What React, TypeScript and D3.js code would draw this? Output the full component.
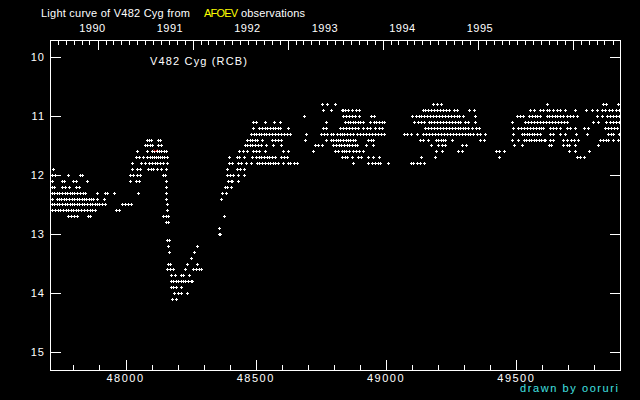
import React from "react";
import * as d3 from "d3";

// ---- data: JD - 2400000 per magnitude row ----
const m108 = [48755, 48772, 48805, 49182, 49197, 49212, 49619, 49833, 49844, 49890];
const m109 = [48757, 48790, 48830, 48836, 48842, 48855, 48869, 48885, 48897, 49141, 49150, 49162, 49173, 49185, 49196, 49208, 49219, 49231, 49240, 49259, 49272, 49320, 49336, 49553, 49566, 49591, 49604, 49617, 49627, 49640, 49658, 49668, 49687, 49726, 49768, 49790, 49809, 49828, 49841, 49854, 49868, 49881, 49894];
const m110 = [48686, 48834, 48846, 48858, 48869, 48881, 48898, 48941, 48954, 49099, 49115, 49126, 49133, 49147, 49158, 49169, 49181, 49192, 49204, 49215, 49227, 49238, 49250, 49261, 49273, 49281, 49297, 49343, 49502, 49514, 49527, 49550, 49560, 49570, 49580, 49589, 49617, 49626, 49636, 49647, 49657, 49668, 49681, 49694, 49706, 49718, 49732, 49811, 49828, 49847, 49860, 49872, 49883, 49894];
const m111 = [48491, 48501, 48537, 48568, 48594, 48771, 48843, 48852, 48862, 48872, 48881, 48891, 48900, 48913, 48939, 48952, 48962, 48973, 48985, 48992, 49108, 49123, 49135, 49144, 49163, 49173, 49185, 49196, 49208, 49219, 49231, 49242, 49254, 49265, 49277, 49284, 49303, 49316, 49342, 49485, 49534, 49545, 49557, 49568, 49580, 49591, 49603, 49614, 49626, 49637, 49649, 49660, 49672, 49683, 49694, 49794, 49815, 49843, 49860, 49872, 49883, 49894];
const m112 = [48491, 48514, 48524, 48535, 48543, 48555, 48565, 48574, 48584, 48593, 48625, 48759, 48770, 48824, 48835, 48847, 48858, 48870, 48881, 48894, 48913, 48926, 48939, 48958, 48971, 48984, 49150, 49162, 49173, 49185, 49196, 49208, 49219, 49231, 49242, 49254, 49265, 49277, 49284, 49295, 49303, 49315, 49329, 49346, 49355, 49489, 49508, 49518, 49530, 49541, 49553, 49564, 49576, 49587, 49595, 49604, 49630, 49641, 49653, 49668, 49696, 49706, 49726, 49761, 49777, 49841, 49852, 49864, 49875, 49886];
const m113 = [48482, 48492, 48501, 48511, 48520, 48532, 48541, 48551, 48562, 48574, 48585, 48597, 48608, 48620, 48631, 48694, 48751, 48762, 48775, 48788, 48798, 48811, 48824, 48832, 48839, 48851, 48862, 48874, 48888, 48900, 48913, 48923, 48935, 48946, 48958, 48969, 48981, 48992, 49067, 49082, 49097, 49120, 49142, 49154, 49165, 49177, 49188, 49200, 49211, 49223, 49234, 49246, 49257, 49269, 49280, 49292, 49303, 49315, 49322, 49335, 49349, 49361, 49380, 49489, 49521, 49530, 49540, 49549, 49559, 49568, 49580, 49591, 49630, 49642, 49668, 49687, 49729, 49770, 49853, 49863, 49872, 49895];
const m114 = [48081, 48090, 48098, 48123, 48132, 48466, 48476, 48485, 48495, 48505, 48523, 48561, 48574, 48585, 48596, 48690, 48771, 48788, 48797, 48806, 48816, 48825, 48835, 48845, 48854, 48862, 48874, 48881, 48932, 48941, 48951, 49131, 49142, 49162, 49192, 49201, 49211, 49220, 49227, 49252, 49361, 49376, 49484, 49505, 49528, 49538, 49547, 49557, 49566, 49576, 49586, 49595, 49605, 49610, 49630, 49642, 49681, 49694, 49709, 49722, 49738, 49821, 49834, 49844, 49853, 49872, 49891];
const m115 = [48073, 48082, 48092, 48102, 48126, 48137, 48459, 48468, 48478, 48487, 48497, 48507, 48519, 48539, 48567, 48598, 48727, 48740, 48753, 48798, 48808, 48818, 48828, 48839, 48849, 48858, 48868, 48881, 48887, 48923, 48951, 49173, 49201, 49214, 49227, 49291, 49307, 49493, 49521, 49624, 49635, 49681, 49694, 49704, 49726, 49815];
const m116 = [48045, 48081, 48100, 48109, 48119, 48128, 48138, 48146, 48155, 48436, 48450, 48468, 48491, 48501, 48514, 48535, 48604, 48624, 48719, 48804, 48817, 48830, 48839, 48846, 48858, 48872, 48885, 48897, 48910, 49192, 49215, 49278, 49291, 49423, 49432, 49451, 49704, 49726, 49779];
const m117 = [48040, 48053, 48068, 48081, 48092, 48102, 48109, 48117, 48125, 48132, 48140, 48148, 48159, 48398, 48427, 48437, 48455, 48484, 48501, 48511, 48521, 48532, 48542, 48552, 48562, 48574, 48597, 48608, 48621, 48830, 48842, 48849, 48868, 48891, 48903, 48930, 48951, 48974, 49133, 49186, 49432, 49732, 49745, 49758];
const m118 = [48024, 48058, 48075, 48091, 48102, 48112, 48121, 48132, 48145, 48158, 48398, 48410, 48433, 48443, 48461, 48482, 48504, 48514, 48524, 48535, 48545, 48555, 48565, 48575, 48585, 48606, 48625, 48632, 48647, 48660, 48872, 48932, 48945, 48958, 48969, 48977, 49006, 49095, 49105, 49118, 49131, 49147];
const m119 = [47720, 48024, 48045, 48056, 48088, 48098, 48105, 48119, 48136, 48154, 48388, 48427, 48440, 48455];
const m120 = [47718, 47729, 47780, 47825, 47831, 48018, 48030, 48043, 48056, 48145, 48150, 48388, 48401, 48413, 48431, 48454];
const m121 = [47718, 47755, 47765, 47798, 47808, 47853, 48019, 48040, 48053, 48154, 48394, 48403, 48410, 48431];
const m122 = [47718, 47727, 47755, 47768, 47784, 47809, 47822, 48154, 48382, 48390, 48405];
const m123 = [47718, 47727, 47737, 47746, 47756, 47766, 47775, 47785, 47794, 47804, 47814, 47825, 47837, 47844, 47889, 47921, 47927, 47957, 48046, 48155, 48369, 48385];
const m124 = [47718, 47737, 47745, 47754, 47764, 47773, 47783, 47793, 47802, 47812, 47821, 47831, 47841, 47850, 47860, 47869, 47876, 47889, 47918, 48154, 48365];
const m125 = [47718, 47727, 47737, 47746, 47756, 47766, 47775, 47785, 47794, 47804, 47814, 47823, 47833, 47842, 47852, 47862, 47871, 47881, 47890, 47900, 47910, 47921, 47985, 47998, 48008, 48020, 48158];
const m126 = [47718, 47729, 47739, 47748, 47760, 47771, 47781, 47791, 47800, 47810, 47819, 47829, 47841, 47852, 47864, 47873, 47883, 47963, 47976, 48158];
const m127 = [47780, 47791, 47802, 47813, 47857, 47865, 48145, 48155, 48164, 48379];
const m128 = [48155, 48163];
const m129 = [48360];
const m130 = [48358, 48363];
const m131 = [48158, 48166];
const m132 = [48162, 48275];
const m133 = [48167, 48264];
const m134 = [48252];
const m135 = [48163, 48170, 48237, 48275];
const m136 = [48158, 48171, 48182, 48229, 48260, 48270, 48281, 48291];
const m137 = [48175, 48188, 48211, 48219, 48245];
const m138 = [48175, 48183, 48193, 48201, 48212, 48220, 48229, 48240, 48250, 48256];
const m139 = [48175, 48182, 48194, 48211];
const m140 = [48187, 48200, 48214, 48237];
const m141 = [48180, 48193];

const magRows: [number, number[]][] = [
  [10.8, m108], [10.9, m109], [11.0, m110], [11.1, m111], [11.2, m112], [11.3, m113],
  [11.4, m114], [11.5, m115], [11.6, m116], [11.7, m117], [11.8, m118], [11.9, m119],
  [12.0, m120], [12.1, m121], [12.2, m122], [12.3, m123], [12.4, m124], [12.5, m125],
  [12.6, m126], [12.7, m127], [12.8, m128], [12.9, m129], [13.0, m130], [13.1, m131],
  [13.2, m132], [13.3, m133], [13.4, m134], [13.5, m135], [13.6, m136], [13.7, m137],
  [13.8, m138], [13.9, m139], [14.0, m140], [14.1, m141],
];

// fainter-than marks (red)
const limitDates = [48113];
const limitMags = [11.6];

const xMajorTicks = [48000, 48500, 49000, 49500];
const yTicks = [10, 11, 12, 13, 14, 15];
const yearLabels = ["1990", "1991", "1992", "1993", "1994", "1995"];

const W = 640;
const H = 400;
const L = 50, R = 620, T = 40, B = 370;

const xScale = d3.scaleLinear().domain([47710, 49898]).range([L, R]);
const yScale = d3.scaleLinear().domain([9.712, 15.305]).range([T, B]);
const yearLabelScale = d3.scaleLinear().domain([1990, 1995]).range([92.5, 480]);

const toJD = (d: Date) => d.getTime() / 86400000 + 40587.5;

const FONT = "'Liberation Sans', Arial, sans-serif";

export default function App() {
  const [x0, x1] = xScale.domain();
  const minorTicks = d3.range(47800, 49900, 100).filter((v) => v > x0 && v < x1 && v % 500 !== 0);
  const months = d3
    .utcMonth.range(new Date(Date.UTC(1989, 6, 1)), new Date(Date.UTC(1996, 0, 1)))
    .map(toJD)
    .filter((v) => v > x0 && v < x1);
  const years = d3
    .utcYear.range(new Date(Date.UTC(1989, 0, 1)), new Date(Date.UTC(1997, 0, 1)))
    .map(toJD)
    .filter((v) => v > x0 && v < x1);

  let crossPath = "";
  magRows.forEach(([m, dates]) => {
    const py = Math.round(yScale(m));
    dates.forEach((jd) => {
      const px = Math.round(xScale(jd));
      crossPath += `M${px - 1},${py + 0.5}H${px + 2}M${px + 0.5},${py - 1}V${py + 2}`;
    });
  });

  let limitPath = "";
  limitDates.forEach((jd, i) => {
    const px = Math.round(xScale(jd)) + 0.5;
    const py = Math.round(yScale(limitMags[i])) + 0.5;
    limitPath += `M${px - 2},${py - 2}L${px},${py}L${px + 2},${py - 2}`;
  });

  const lx = (v: number) => Math.round(xScale(v)) + 0.5;
  const ly = (v: number) => Math.round(yScale(v)) + 0.5;

  return (
    <svg
      width={W}
      height={H}
      style={{ position: "absolute", left: 0, top: 0, display: "block" }}
      fontFamily={FONT}
    >
      <rect x={0} y={0} width={W} height={H} fill="#000" />
      {/* frame */}
      <g stroke="#fff" strokeWidth={1} shapeRendering="crispEdges" fill="none">
        <path d={`M${L + 0.5},${T + 0.5}H${R + 0.5}V${B + 0.5}H${L + 0.5}Z`} />
        {/* bottom ticks */}
        {xMajorTicks.map((v) => (
          <line key={"bx" + v} x1={lx(v)} x2={lx(v)} y1={B + 0.5} y2={B - 10} />
        ))}
        {minorTicks.map((v) => (
          <line key={"bm" + v} x1={lx(v)} x2={lx(v)} y1={B + 0.5} y2={B - 5} />
        ))}
        {/* top ticks: years & months */}
        {years.map((v) => (
          <line key={"ty" + v} x1={lx(v)} x2={lx(v)} y1={T + 0.5} y2={T + 10} />
        ))}
        {months.map((v) => (
          <line key={"tm" + v} x1={lx(v)} x2={lx(v)} y1={T + 0.5} y2={T + 5} />
        ))}
        {/* left / right ticks */}
        {yTicks.map((v) => (
          <g key={"yt" + v}>
            <line x1={L + 0.5} x2={L + 11} y1={ly(v)} y2={ly(v)} />
            <line x1={R + 0.5} x2={R - 10} y1={ly(v)} y2={ly(v)} />
          </g>
        ))}
      </g>

      {/* data */}
      <path d={crossPath} stroke="#fff" strokeWidth={1} fill="none" shapeRendering="crispEdges" />
      <path d={limitPath} stroke="#ff2020" strokeWidth={1} fill="none" />

      {/* texts */}
      <g fill="#fff" fontSize={11}>
        <text x={41} y={17} textLength={149} lengthAdjust="spacing">Light curve of V482 Cyg from</text>
        <text x={204} y={17} textLength={34} lengthAdjust="spacing" fill="#ffff00">AFOEV</text>
        <text x={241} y={17} textLength={64} lengthAdjust="spacing">observations</text>
        {yearLabels.map((s) => (
          <text key={s} x={yearLabelScale(+s)} y={32} textAnchor="middle" letterSpacing={0.5}>{s}</text>
        ))}
        <text x={150} y={65} textLength={97} lengthAdjust="spacing">V482 Cyg (RCB)</text>
        {xMajorTicks.map((v) => (
          <text key={"xl" + v} x={xScale(v)} y={382} textAnchor="middle" letterSpacing={1.5}>{v}</text>
        ))}
        {yTicks.map((v) => (
          <text key={"yl" + v} x={45} y={yScale(v) + 4} textAnchor="end" letterSpacing={1}>{v}</text>
        ))}
        <text x={520} y={392} textLength={98} lengthAdjust="spacing" fill="#40e0e0">drawn by ooruri</text>
      </g>
    </svg>
  );
}
